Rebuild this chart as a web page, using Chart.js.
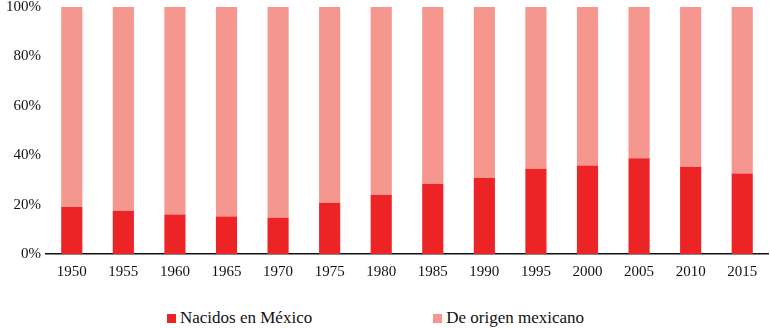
<!DOCTYPE html>
<html>
<head>
<meta charset="utf-8">
<script src="https://cdn.jsdelivr.net/npm/chart.js@4"></script>
<style>
  body { margin: 0; background: #fff; overflow: hidden; }
  #wrap { position: relative; width: 770px; height: 328px; overflow: hidden; }
  #box { position: absolute; left: 0; top: -7px; width: 770px; height: 297px; }
  #legend {
    position: absolute; left: 167px; top: 308px;
    display: flex; gap: 121px;
    font-family: "Liberation Serif", serif; font-size: 17px; color: #111;
  }
  .item { display: flex; align-items: center; white-space: nowrap; }
  .sw { width: 9px; height: 9px; margin-right: 4px; }
</style>
</head>
<body>
<div id="wrap">
  <div id="box"><canvas id="graph"></canvas></div>
  <div id="legend"></div>
</div>
<script>
//Years on the x axis
const years = ["1950", "1955", "1960", "1965", "1970", "1975", "1980",
  "1985", "1990", "1995", "2000", "2005", "2010", "2015"];

//Share born in Mexico (%)
const nacidos = [19.0, 17.5, 16.0, 15.2, 14.7, 20.6, 24.0,
  28.4, 30.8, 34.5, 35.8, 38.8, 35.3, 32.6];

//Rest of the 100% bar
const deOrigen = nacidos.map(v => +(100 - v).toFixed(1));

const seriesNames = ["Nacidos en México", "De origen mexicano"];
const seriesColors = ["#ED2426", "#F5978F"];

const font = { family: "Liberation Serif", size: 15 };

const chart = new Chart("graph", {
  type: "bar",
  data: {
    labels: years,
    datasets: [
      { label: seriesNames[0], data: nacidos, backgroundColor: seriesColors[0] },
      { label: seriesNames[1], data: deOrigen, backgroundColor: seriesColors[1] },
    ],
  },
  options: {
    responsive: true,
    maintainAspectRatio: false,
    animation: false,
    layout: { padding: { top: 0, right: 2, left: 0, bottom: 0 } },
    datasets: { bar: { categoryPercentage: 0.82, barPercentage: 0.5 } },
    plugins: { legend: { display: false }, tooltip: { enabled: false } },
    scales: {
      x: {
        stacked: true,
        grid: { display: false, drawTicks: false },
        border: { display: true, color: "#111", width: 1.5 },
        ticks: { color: "#111", font, padding: 9, maxRotation: 0 },
      },
      y: {
        stacked: true,
        min: 0,
        max: 100,
        grid: { display: false, drawTicks: false },
        border: { display: false },
        afterFit: s => { s.width = 46; },
        ticks: {
          stepSize: 20,
          color: "#111",
          font,
          padding: 5,
          callback: v => v + "%",
        },
      },
    },
  },
});

//Legend built from the datasets
const legend = document.getElementById("legend");
chart.data.datasets.forEach(ds => {
  const item = document.createElement("div");
  item.className = "item";
  item.innerHTML = `<span class="sw" style="background:${ds.backgroundColor}"></span>${ds.label}`;
  legend.appendChild(item);
});
</script>
</body>
</html>
